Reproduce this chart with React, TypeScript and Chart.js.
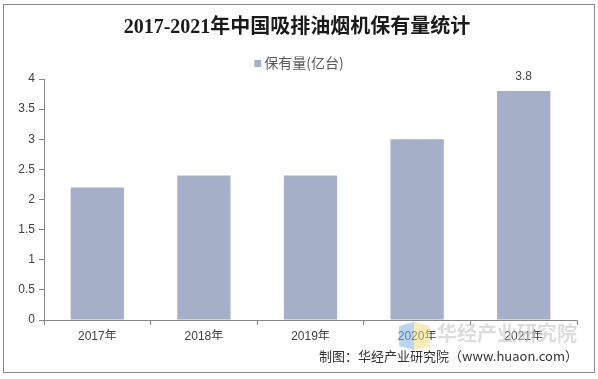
import React, { useEffect, useRef } from "react";
import { Chart, registerables } from "chart.js";

Chart.register(...registerables);

const categories = ["2017年", "2018年", "2019年", "2020年", "2021年"];
const seriesName = "保有量(亿台)";
const values = [2.2, 2.4, 2.4, 3.0, 3.8];
const labeledIndices = [4];
const yTicks = [0, 0.5, 1, 1.5, 2, 2.5, 3, 3.5, 4];
const titleText = "2017-2021年中国吸排油烟机保有量统计";
const sourceText = "制图：华经产业研究院（www.huaon.com）";
const watermarkText = "华经产业研究院";

const BAR = "#A5B0C8";
const TEXT = "#404040";
const AXIS = "#868686";
const SANS = "'Liberation Sans', 'Noto Sans CJK SC', sans-serif";

export default function App() {
  const ref = useRef<HTMLCanvasElement>(null);
  useEffect(() => {
    document.body.style.margin = "0";
    const decor = {
      id: "decor",
      beforeDraw(chart: any) {
        const c = chart.ctx;
        c.save();
        c.fillStyle = "#fff";
        c.fillRect(0, 0, chart.width, chart.height);
        c.restore();
      },
      afterDraw(chart: any) {
        const c = chart.ctx;
        c.save();
        // frame
        c.strokeStyle = "#8a8a8a";
        c.lineWidth = 1;
        c.strokeRect(3.5, 4.5, 591, 368);
        // title
        c.fillStyle = "#1a1a1a";
        c.font = "bold 20px 'Liberation Serif', 'Noto Sans CJK SC', serif";
        c.textAlign = "center";
        c.textBaseline = "middle";
        c.fillText(titleText, 297, 28);
        // legend
        c.font = "14px 'Noto Sans CJK SC', sans-serif";
        c.textAlign = "left";
        const tw = c.measureText(seriesName).width;
        const lx = 299 - (tw + 10) / 2;
        c.fillStyle = BAR;
        c.fillRect(lx, 60, 7, 7);
        c.fillStyle = "#595959";
        c.fillText(seriesName, lx + 10, 63);
        // data labels
        const meta = chart.getDatasetMeta(0);
        c.font = "12px " + SANS;
        c.textAlign = "center";
        c.fillStyle = TEXT;
        labeledIndices.forEach((i) => {
          const el = meta.data[i];
          c.fillText(values[i].toFixed(1), el.x, el.y - 14);
        });
        // watermark
        c.globalAlpha = 0.55;
        c.fillStyle = "#7fb2e6";
        c.beginPath();
        c.moveTo(399, 326); c.lineTo(414, 322); c.lineTo(414, 350); c.lineTo(399, 346);
        c.closePath(); c.fill();
        c.fillStyle = "#f5dc7a";
        c.beginPath();
        c.moveTo(414, 322); c.lineTo(430, 326); c.lineTo(430, 346); c.lineTo(414, 350);
        c.closePath(); c.fill();
        c.globalAlpha = 0.6;
        c.fillStyle = "#c4c4c4";
        c.font = "bold 20px 'Noto Sans CJK SC', sans-serif";
        c.textAlign = "left";
        c.fillText(watermarkText, 437, 333);
        c.globalAlpha = 1;
        // source
        c.fillStyle = "#333";
        c.font = "13px 'Noto Sans CJK SC', " + SANS;
        c.textAlign = "right";
        c.fillText(sourceText, 578, 356);
        c.restore();
      },
    };
    const chart = new Chart(ref.current!, {
      type: "bar",
      data: {
        labels: categories,
        datasets: [
          {
            label: seriesName,
            data: values,
            backgroundColor: BAR,
            barPercentage: 1,
            categoryPercentage: 0.5,
          },
        ],
      },
      options: {
        animation: false,
        responsive: false,
        maintainAspectRatio: false,
        layout: { padding: { top: 79, left: 0, right: 21, bottom: 39 } },
        plugins: {
          legend: { display: false },
          title: { display: false },
          tooltip: { enabled: false },
        },
        scales: {
          x: {
            grid: { display: true, drawOnChartArea: false, offset: true, tickLength: 5, color: AXIS },
            border: { color: AXIS },
            ticks: { color: TEXT, font: { size: 12, family: SANS }, padding: 4, maxRotation: 0 },
            afterFit(s: any) { s.height = 20; },
          },
          y: {
            min: 0,
            max: 4,
            afterBuildTicks(s: any) { s.ticks = yTicks.map((v) => ({ value: v })); },
            grid: { display: true, drawOnChartArea: false, tickLength: 5, color: AXIS },
            border: { color: AXIS },
            ticks: {
              color: TEXT,
              font: { size: 12, family: SANS },
              padding: 4,
              callback: (v: any) => String(Number(v)),
            },
            afterFit(s: any) { s.width = 44; },
          },
        },
      },
      plugins: [decor],
    });
    return () => chart.destroy();
  }, []);
  return <canvas ref={ref} width={598} height={379} style={{ display: "block" }} />;
}
